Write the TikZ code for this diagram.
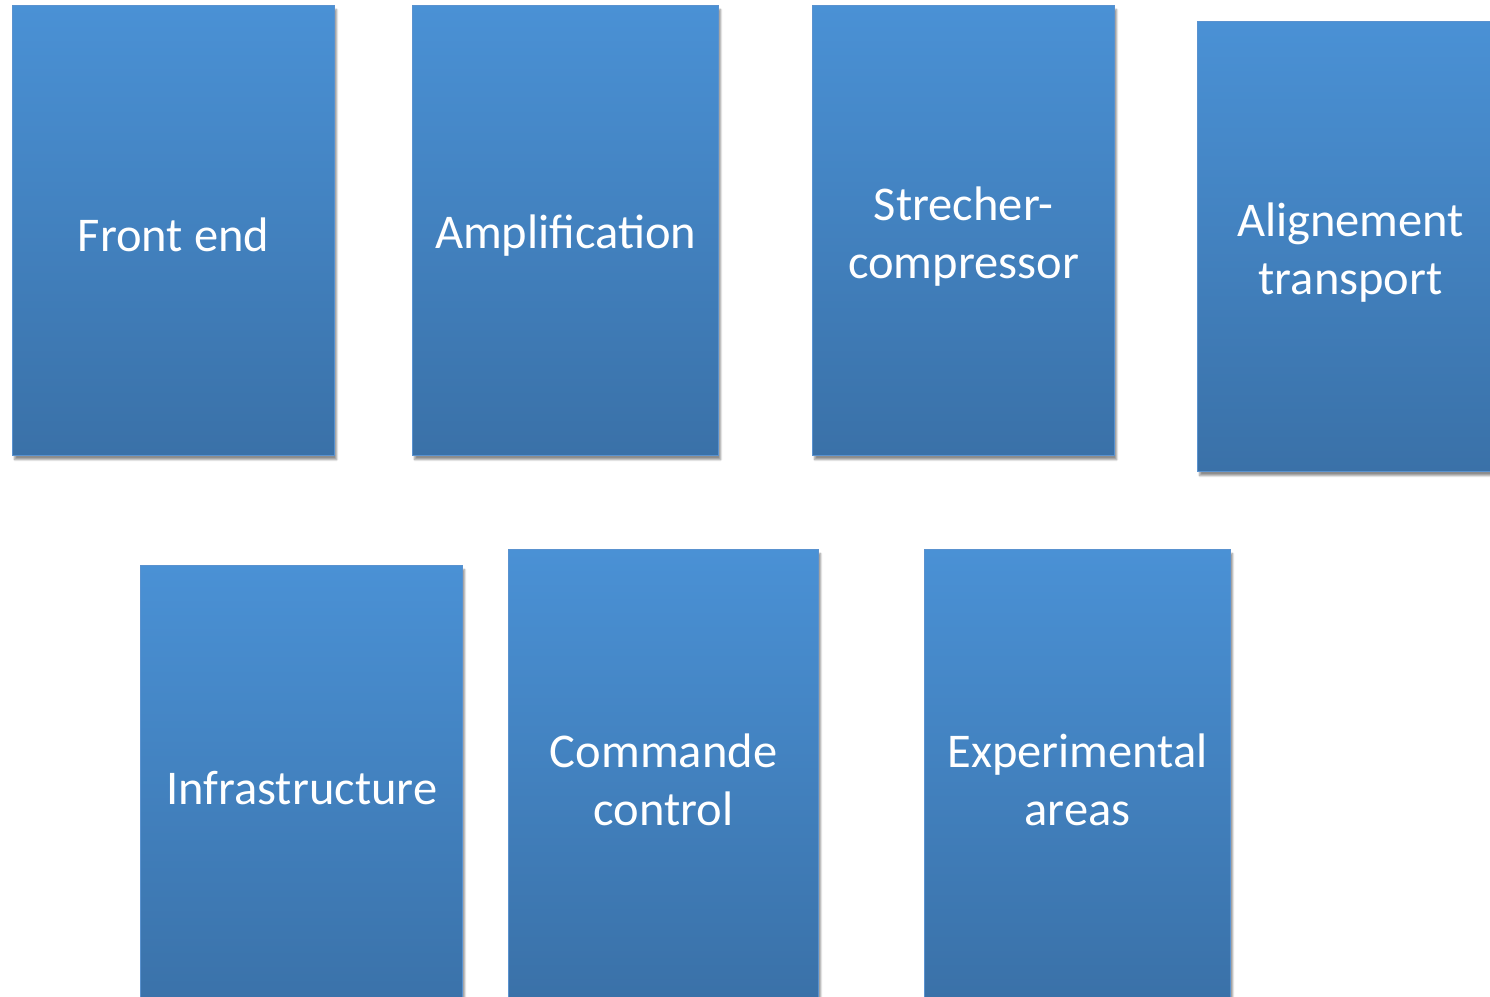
\documentclass[tikz,border=0pt]{standalone}
\usepackage{fontspec}
\setmainfont{Carlito}
\usetikzlibrary{shadows.blur}
\definecolor{blocktop}{HTML}{4A91D5}
\definecolor{blockbot}{HTML}{3A71A8}
\definecolor{blockedge}{HTML}{5A92CF}
\tikzset{
  block/.style={rectangle, anchor=north west, inner sep=0pt,
    top color=blocktop, bottom color=blockbot, draw=blockedge, line width=1.2pt,
    minimum height=450pt,
    blur shadow={shadow xshift=2pt, shadow yshift=-4pt, shadow blur steps=6, shadow opacity=45}},
  caption/.style={text=white, align=center, inner sep=0pt,
    font=\fontsize{48.5}{58}\selectfont},
}
\begin{document}
\begin{tikzpicture}[x=1pt,y=-1pt]
\useasboundingbox (0,0) rectangle (1490,996);
\clip (0,0) rectangle (1490,996);
% upper row
\node[block, minimum width=322pt] (front) at (12,5) {};
\node[block, minimum width=306pt] (ampli) at (412,5) {};
\node[block, minimum width=302pt] (strech) at (812,5) {};
\node[block, minimum width=306pt] (align) at (1197,21) {};
% lower row
\node[block, minimum width=322pt] (infra) at (140,565) {};
\node[block, minimum width=310pt] (ctrl) at (508,549) {};
\node[block, minimum width=306pt] (exp) at (924,549) {};
% labels
\node[caption] (frontT) at ([yshift=-4pt]front.center) {Front end};
\node[caption] (ampliT) at ([yshift=-5pt]ampli.center) {Amplification};
\node[caption] (strechT) at ([yshift=-6pt]strech.center) {Strecher-\\compressor};
\node[caption] (alignT) at ([yshift=-6pt]align.center) {Alignement\\transport};
\node[caption] (infraT) at ([yshift=3pt]infra.center) {Infrastructure};
\node[caption] (ctrlT) at ([yshift=-5pt]ctrl.center) {Commande\\control};
\node[caption] (expT) at ([yshift=-5pt]exp.center) {Experimental\\areas};
\end{tikzpicture}
\end{document}
